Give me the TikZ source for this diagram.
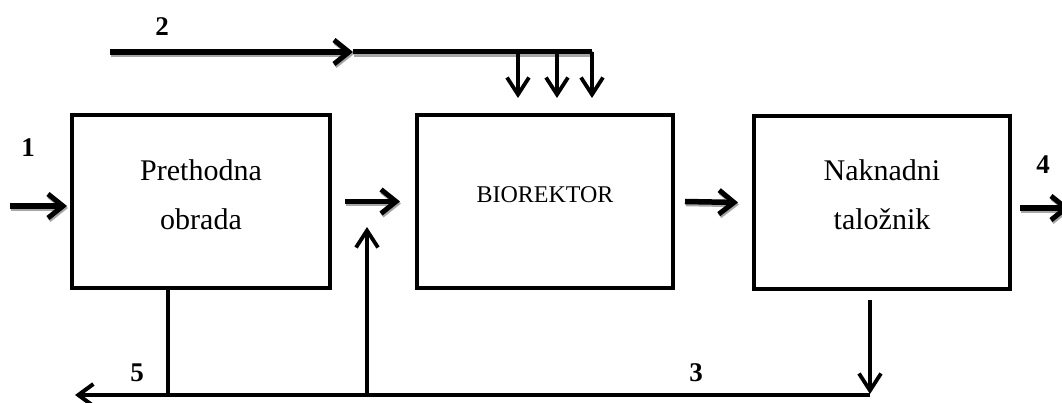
\documentclass[tikz,border=0pt]{standalone}
\usepackage{fontspec}
\setmainfont{Liberation Serif}
\usetikzlibrary{arrows.meta}
\tikzset{
  box/.style={draw, line width=4pt, minimum width=258pt, minimum height=173pt, inner sep=0pt},
  boxtext/.style={font=\fontsize{30}{49}\selectfont, align=center, inner sep=0pt},
  smalltext/.style={font=\fontsize{24}{28}\selectfont, inner sep=0pt},
  numlabel/.style={font=\fontsize{27}{30}\selectfont\bfseries, inner sep=0pt},
  shad/.style={preaction={draw=black!35, line width=5.5pt, transform canvas={shift={(1pt,-2pt)}}}},
  flow/.style={line width=5.5pt, -{Straight Barb[length=15pt, width=24pt, line width=5pt]}},
  thin/.style={line width=3.5pt},
  thinarrow/.style={line width=3.5pt, -{Straight Barb[length=17pt, width=22pt, line width=3.8pt]}},
}
\begin{document}
\begin{tikzpicture}[x=1pt, y=-1pt]
\useasboundingbox (0,0) rectangle (1062,403);
% boxes
\node[box] (b1) at (201,201.5) {};
\node[box, minimum width=256pt] (b2) at (545,201.5) {};
\node[box, minimum width=256pt] (b3) at (882,202.5) {};
\node[boxtext] (t1) at (201,195) {Prethodna\\obrada};
\node[smalltext] (t2) at (545,195) {BIOREKTOR};
\node[boxtext] (t3) at (882,195) {Naknadni\\taložnik};
% labels
\node[numlabel] (l1) at (28,148) {1};
\node[numlabel] (l2) at (162,27) {2};
\node[numlabel] (l4) at (1043,165) {4};
\node[numlabel] (l5) at (137,373) {5};
\node[numlabel] (l3) at (696,373) {3};
% coordinates
\coordinate (in1) at (10,206);
\coordinate (s2) at (110,52);
\coordinate (m2) at (353,52);
\coordinate (e2) at (592,52);
\coordinate (out4) at (1070,208);
\coordinate (d3) at (870,300);
\coordinate (c3) at (870,395);
\coordinate (c5) at (75,395);
\coordinate (c1) at (168,395);
\coordinate (cu) at (367,395);
\coordinate (tu) at (367,227);
% flow 1
\draw[flow, shad, shorten >=3pt] (in1) -- (in1 -| b1.west);
% between boxes
\draw[flow, shad] ([xshift=13pt]b1.east) -- ([xshift=-15pt]b2.west);
\draw[flow, shad] ([xshift=10pt]b2.east) -- ([xshift=-14pt]b3.west);
% output 4
\draw[flow, shad] ([xshift=8pt]b3.east |- out4) -- (out4);
% stream 2
\draw[flow, shad] (s2) -- (m2);
\draw[line width=5pt, shad] (m2) -- (e2);
\draw[thinarrow, shorten >=15pt] (518,52) -- (b2.north -| 518,0);
\draw[thinarrow, shorten >=15pt] (557,52) -- (b2.north -| 557,0);
\draw[thinarrow, shorten >=15pt] (e2) -- (b2.north -| e2);
% bottom return
\draw[thinarrow, shorten >=1pt] (d3) -- (c3);
\draw[line width=4.5pt, -{Straight Barb[length=15pt, width=22pt, line width=4pt]}] (c3) -- (c5);
\draw[thin] (b1.south -| c1) -- (c1);
\draw[thinarrow] (cu) -- (tu);
\end{tikzpicture}
\end{document}
